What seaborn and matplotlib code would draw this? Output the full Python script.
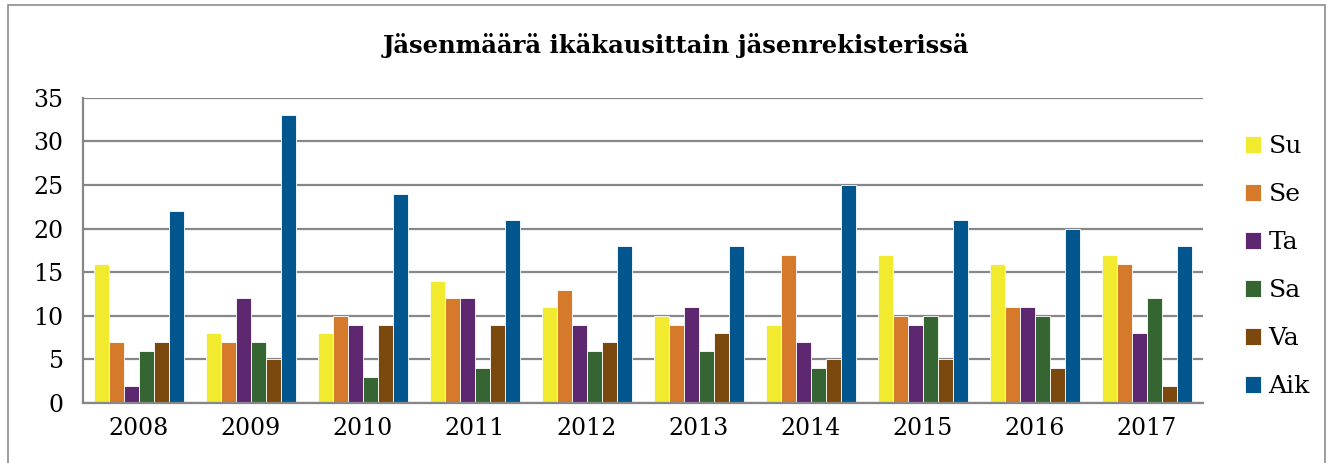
import matplotlib
matplotlib.use("Agg")
import matplotlib.pyplot as plt
import seaborn as sns
import pandas as pd
from matplotlib.patches import Rectangle

years = ["2008", "2009", "2010", "2011", "2012", "2013", "2014", "2015", "2016", "2017"]
series = ["Su", "Se", "Ta", "Sa", "Va", "Aik"]
su = [16, 8, 8, 14, 11, 10, 9, 17, 16, 17]
se = [7, 7, 10, 12, 13, 9, 17, 10, 11, 16]
ta = [2, 12, 9, 12, 9, 11, 7, 9, 11, 8]
sa = [6, 7, 3, 4, 6, 6, 4, 10, 10, 12]
va = [7, 5, 9, 9, 7, 8, 5, 5, 4, 2]
aik = [22, 33, 24, 21, 18, 18, 25, 21, 20, 18]
colors = ["#F2EA2E", "#D57A2A", "#5E2870", "#356631", "#7B490E", "#02568E"]

rows = []
for name, vals in zip(series, [su, se, ta, sa, va, aik]):
    for y, v in zip(years, vals):
        rows.append({"Vuosi": y, "Ryhmä": name, "Määrä": v})
df = pd.DataFrame(rows)

sns.set_theme(style="white")
plt.rcParams["font.family"] = ["DejaVu Serif"]
plt.rcParams["text.color"] = "black"
plt.rcParams["xtick.color"] = "black"
plt.rcParams["ytick.color"] = "black"

fig = plt.figure(figsize=(13.3, 4.63), dpi=100)
ax = fig.add_axes([0.0624, 0.1296, 0.842, 0.659])
sns.barplot(data=df, x="Vuosi", y="Määrä", hue="Ryhmä", palette=colors,
            width=0.8, ax=ax, edgecolor="white", linewidth=0.6, saturation=1)

ax.set_ylim(0, 35)
ax.set_yticks(range(0, 36, 5))
ax.yaxis.grid(True, color="#878787", linewidth=1.6)
ax.set_axisbelow(True)
ax.set_xlabel("")
ax.set_ylabel("")
for s in ["top", "right"]:
    ax.spines[s].set_visible(False)
for s in ["left", "bottom"]:
    ax.spines[s].set_color("#878787")
    ax.spines[s].set_linewidth(1.6)
ax.tick_params(axis="y", length=8, color="#878787", width=1.6, labelsize=17,
               pad=6, labelcolor="black")
ax.tick_params(axis="x", length=0, labelsize=17, pad=10, labelcolor="black")

h, l = ax.get_legend_handles_labels()
ax.get_legend().remove()
fig.legend(h, l, loc="center left", bbox_to_anchor=(0.919, 0.424), frameon=False,
           fontsize=18, handlelength=0.65, handleheight=0.65, handletextpad=0.3,
           labelspacing=1.0, labelcolor="black")

fig.text(0.508, 0.902, "Jäsenmäärä ikäkausittain jäsenrekisterissä", ha="center",
         va="center", fontsize=17.5, fontweight="bold", color="black")

fig.patches.append(Rectangle((0.006, -0.01), 0.99, 1.0, transform=fig.transFigure,
                             fill=False, edgecolor="#8c8c8c", linewidth=1.2))

fig.savefig("out.png", dpi=100)
